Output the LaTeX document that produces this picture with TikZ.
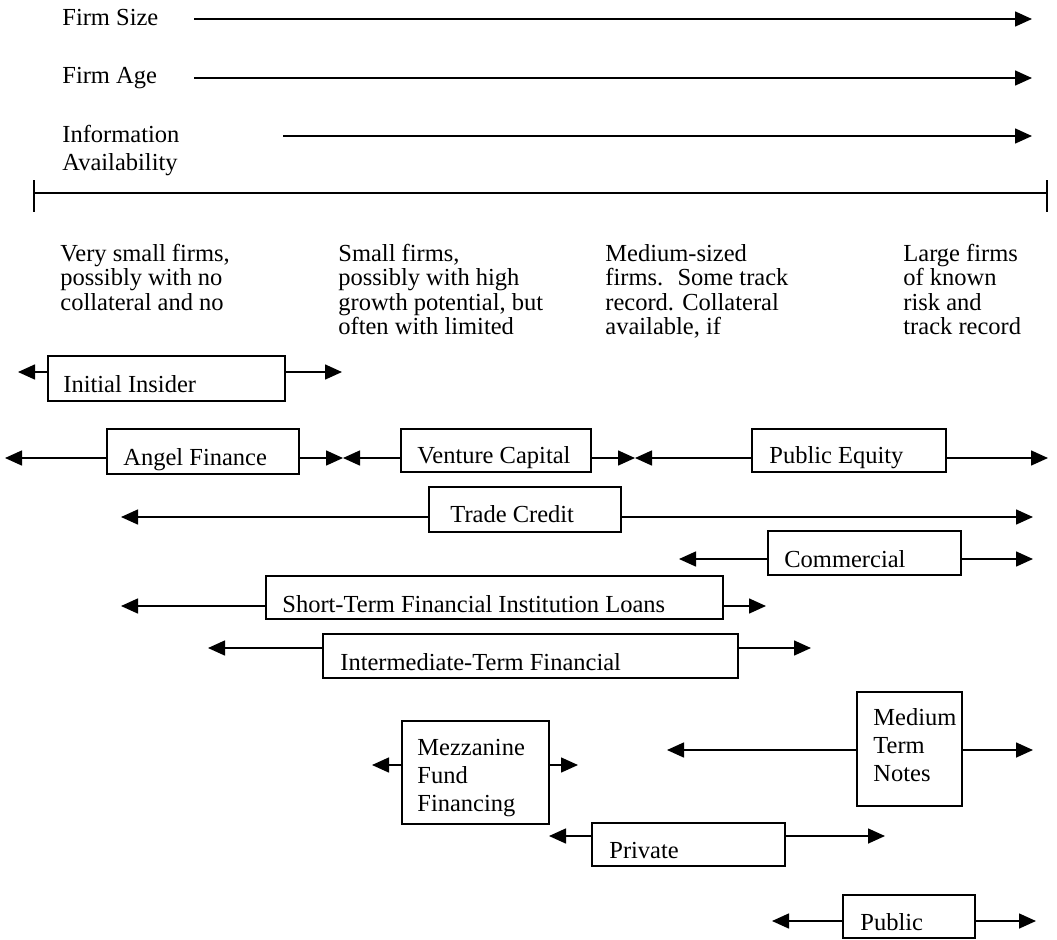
\documentclass[tikz,border=0pt]{standalone}
\usepackage{fontspec}
\setmainfont{Liberation Serif}
\usetikzlibrary{positioning,arrows.meta,fit}
\newcommand{\dfont}{\fontsize{12.25}{12.15}\selectfont}
\newcommand{\bfont}{\fontsize{12.25}{14}\selectfont}
\tikzset{
  fbox/.style={draw, line width=0.8pt, inner sep=0pt},
  txt/.style={inner sep=0pt, font=\dfont, align=left},
  arr/.style={-{Triangle[length=8.5pt,width=7.5pt]}, line width=0.8pt},
}
\begin{document}
\begin{tikzpicture}[x=0.5pt, y=-0.5pt]
  \useasboundingbox (0,0) rectangle (1057,939);
  % firm characteristics
  \node[txt, anchor=base west] (size) at (62,25) {Firm Size};
  \node[txt, anchor=base west] (age) at (62,83) {Firm Age};
  \node[txt, anchor=north west, font=\bfont] (info) at (62,125) {Information\\Availability};
  \coordinate (size-s) at (194,19);  \coordinate (size-e) at (1032,19);
  \coordinate (age-s) at (194,78);   \coordinate (age-e) at (1032,78);
  \coordinate (info-s) at (283,136); \coordinate (info-e) at (1032,136);
  \draw[arr] (size-s) -- (size-e);
  \draw[arr] (age-s) -- (age-e);
  \draw[arr] (info-s) -- (info-e);
  % scale line
  \coordinate (axis-l) at (34,193);
  \coordinate (axis-r) at (1047,193);
  \draw[line width=0.8pt] (axis-l) -- (axis-r);
  \draw[line width=0.8pt] (axis-l) ++(0,-13) -- ++(0,32);
  \draw[line width=0.8pt] (axis-r) ++(0,-13) -- ++(0,32);
  % firm types
  \node[txt, anchor=north west] (col1) at (60,244) {Very small firms,\\possibly with no\\collateral and no};
  \node[txt, anchor=north west] (col2) at (338,244) {Small firms,\\possibly with high\\growth potential, but\\often with limited};
  \node[txt, anchor=north west] (col3) at (605,244) {Medium-sized\\firms.~ Some track\\record. Collateral\\available, if};
  \node[txt, anchor=north west] (col4) at (903,244) {Large firms\\of known\\risk and\\track record};
  % sources of finance
  \node[fbox, fit={(48,356) (285,401)}] (insider) {};
  \node[txt, anchor=base west] (insider-t) at (63,392) {Initial Insider};
  \node[fbox, fit={(107,429) (299,474)}] (angel) {};
  \node[txt, anchor=base west] (angel-t) at (123,465) {Angel Finance};
  \node[fbox, fit={(401,429) (591,472)}] (venture) {};
  \node[txt, anchor=base west] (venture-t) at (417,463) {Venture Capital};
  \node[fbox, fit={(752,429) (946,472)}] (equity) {};
  \node[txt, anchor=base west] (equity-t) at (769,463) {Public Equity};
  \node[fbox, fit={(429,487) (621,532)}] (trade) {};
  \node[txt, anchor=base west] (trade-t) at (450,522) {Trade Credit};
  \node[fbox, fit={(768,531) (961,575)}] (paper) {};
  \node[txt, anchor=base west] (paper-t) at (784,567) {Commercial};
  \node[fbox, fit={(266,576) (723,619)}] (short) {};
  \node[txt, anchor=base west] (short-t) at (282,612) {Short-Term Financial Institution Loans};
  \node[fbox, fit={(323,634) (738,678)}] (inter) {};
  \node[txt, anchor=base west] (inter-t) at (340,670) {Intermediate-Term Financial};
  \node[fbox, fit={(402,721) (549,824)}] (mezz) {};
  \node[txt, anchor=north west, font=\bfont] (mezz-t) at (417,739) {Mezzanine\\Fund\\Financing};
  \node[fbox, fit={(857,692) (962,806)}] (notes) {};
  \node[txt, anchor=north west, font=\bfont] (notes-t) at (873,708) {Medium\\Term\\Notes};
  \node[fbox, fit={(592,823) (785,866)}] (private) {};
  \node[txt, anchor=base west] (private-t) at (609,858) {Private};
  \node[fbox, fit={(843,895) (975,938)}] (public) {};
  \node[txt, anchor=base west] (public-t) at (860,930) {Public};
  % arrow ends
  \coordinate (insider-l) at (18,372);   \coordinate (insider-r) at (342,372);
  \coordinate (angel-l) at (5,458);      \coordinate (angel-r) at (343,458);
  \coordinate (venture-r) at (635,458);  \coordinate (equity-r) at (1048,458);
  \coordinate (trade-l) at (121,517);    \coordinate (trade-r) at (1033,517);
  \coordinate (paper-l) at (679,559);    \coordinate (paper-r) at (1033,559);
  \coordinate (short-l) at (121,606);    \coordinate (short-r) at (766,606);
  \coordinate (inter-l) at (208,648);    \coordinate (inter-r) at (811,648);
  \coordinate (mezz-l) at (372,765);     \coordinate (mezz-r) at (578,765);
  \coordinate (notes-l) at (667,750);    \coordinate (notes-r) at (1033,750);
  \coordinate (private-l) at (549,836);  \coordinate (private-r) at (885,836);
  \coordinate (public-l) at (772,921);   \coordinate (public-r) at (1036,921);
  % ranges
  \draw[arr] (insider.west |- insider-l) -- (insider-l);
  \draw[arr] (insider.east |- insider-r) -- (insider-r);
  \draw[arr] (angel.west |- angel-l) -- (angel-l);
  \draw[arr] (angel.east |- angel-r) -- (angel-r);
  \draw[arr] (venture.west |- angel-r) -- (angel-r);
  \draw[arr] (venture.east |- venture-r) -- (venture-r);
  \draw[arr] (equity.west |- venture-r) -- (venture-r);
  \draw[arr] (equity.east |- equity-r) -- (equity-r);
  \draw[arr] (trade.west |- trade-l) -- (trade-l);
  \draw[arr] (trade.east |- trade-r) -- (trade-r);
  \draw[arr] (paper.west |- paper-l) -- (paper-l);
  \draw[arr] (paper.east |- paper-r) -- (paper-r);
  \draw[arr] (short.west |- short-l) -- (short-l);
  \draw[arr] (short.east |- short-r) -- (short-r);
  \draw[arr] (inter.west |- inter-l) -- (inter-l);
  \draw[arr] (inter.east |- inter-r) -- (inter-r);
  \draw[arr] (mezz.west |- mezz-l) -- (mezz-l);
  \draw[arr] (mezz.east |- mezz-r) -- (mezz-r);
  \draw[arr] (notes.west |- notes-l) -- (notes-l);
  \draw[arr] (notes.east |- notes-r) -- (notes-r);
  \draw[arr] (private.west |- private-l) -- (private-l);
  \draw[arr] (private.east |- private-r) -- (private-r);
  \draw[arr] (public.west |- public-l) -- (public-l);
  \draw[arr] (public.east |- public-r) -- (public-r);
\end{tikzpicture}
\end{document}
